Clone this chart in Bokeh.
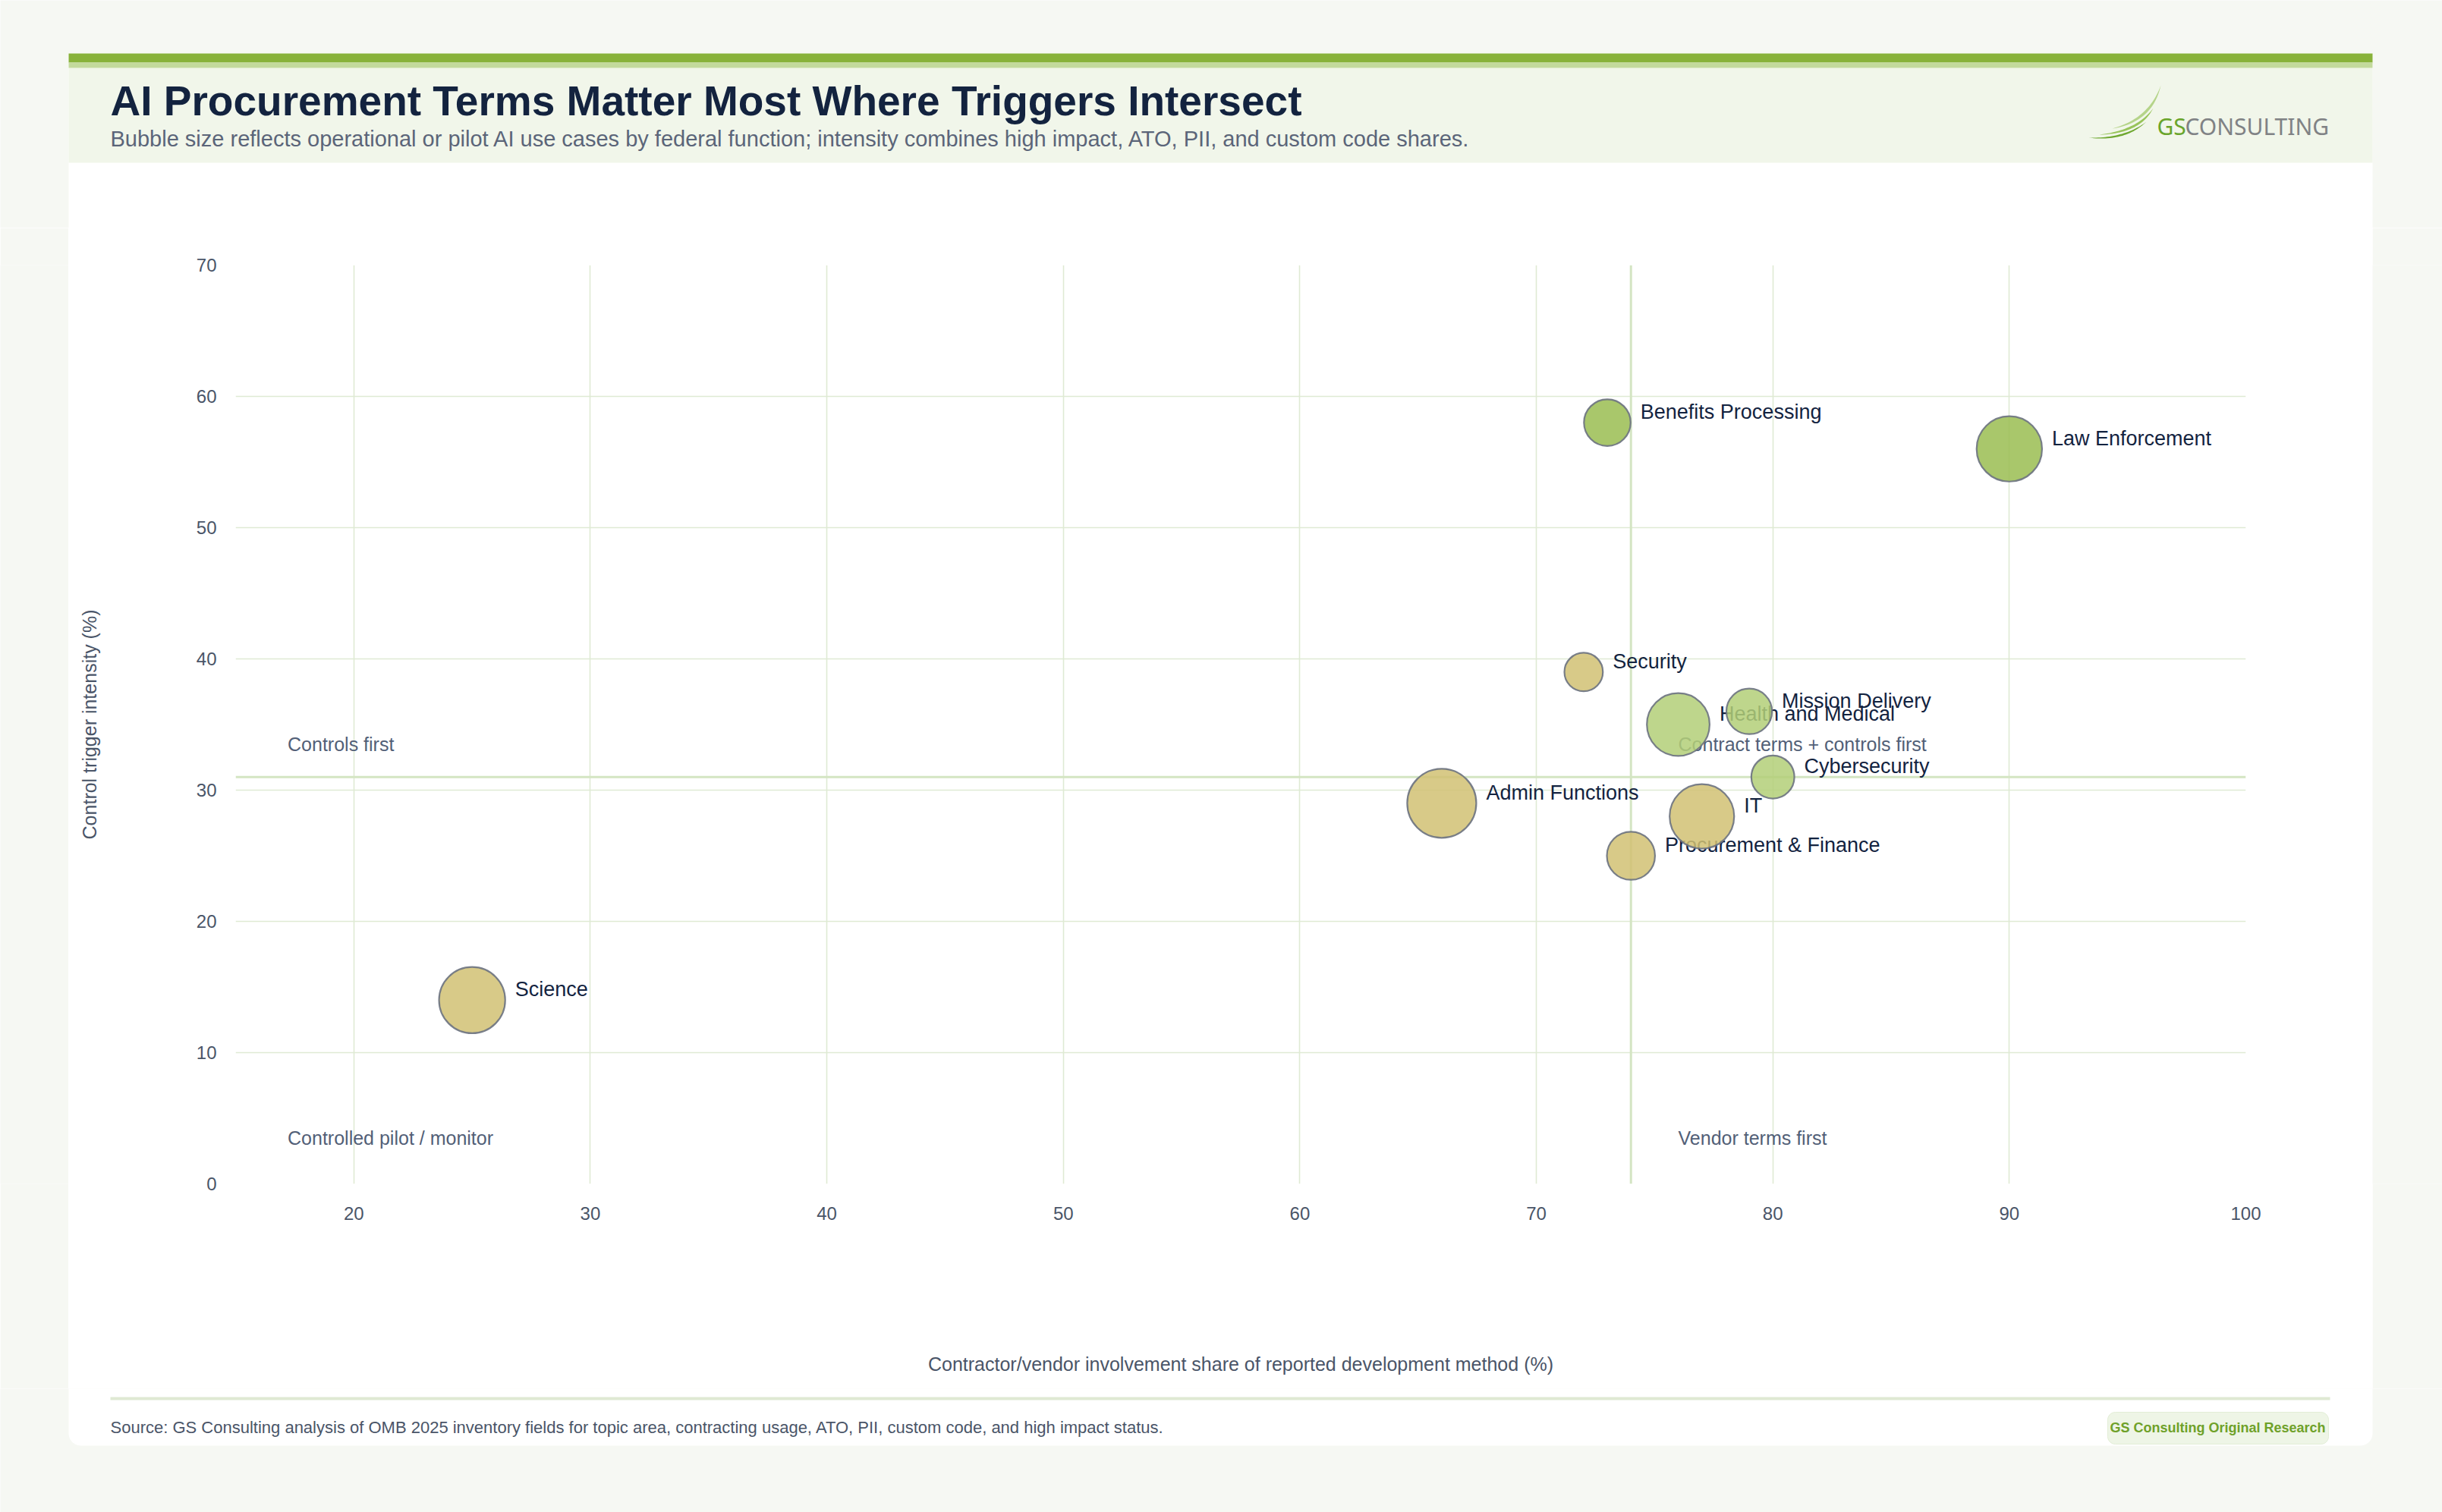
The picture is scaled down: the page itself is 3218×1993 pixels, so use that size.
from bokeh.plotting import figure
from bokeh.layouts import column, row
from bokeh.models import ColumnDataSource, Range1d, FixedTicker, Span
from bokeh.core.properties import value
from bokeh.embed import file_html
from bokeh.resources import INLINE
import numpy as np

# ---------------- data ----------------
functions = ["Benefits Processing", "Law Enforcement", "Security", "Mission Delivery",
             "Health and Medical", "Cybersecurity", "Admin Functions", "IT",
             "Procurement & Finance", "Science"]
vendor_share = [73, 90, 72, 79, 76, 80, 66, 77, 74, 25]
trigger_intensity = [58, 56, 39, 36, 35, 31, 29, 28, 25, 14]
use_cases = [188, 370, 128, 180, 340, 160, 412, 360, 200, 378]
intensity_band = ["high", "high", "low", "mid", "mid", "mid", "low", "low", "low", "low"]

x_ticks = [20, 30, 40, 50, 60, 70, 80, 90, 100]
y_ticks = [0, 10, 20, 30, 40, 50, 60, 70]
vendor_threshold = 74
trigger_threshold = 31
quadrant_top = ["Controls first", "Contract terms + controls first"]
quadrant_bottom = ["Controlled pilot / monitor", "Vendor terms first"]

TITLE = "AI Procurement Terms Matter Most Where Triggers Intersect"
SUBTITLE = ("Bubble size reflects operational or pilot AI use cases by federal function; "
            "intensity combines high impact, ATO, PII, and custom code shares.")
SOURCE = ("Source: GS Consulting analysis of OMB 2025 inventory fields for topic area, "
          "contracting usage, ATO, PII, custom code, and high impact status.")
BADGE = "GS Consulting Original Research"
X_LABEL = "Contractor/vendor involvement share of reported development method (%)"
Y_LABEL = "Control trigger intensity (%)"

# ---------------- styling / page geometry ----------------
FONT = "Liberation Sans"
PAGE_BG = "#f6f8f3"
W, H = 3218, 1993
CARD_L, CARD_R, CARD_T, CARD_B = 90, 3126, 70, 1905
HEAD_H = 300            # header strip height
FOOT_Y = 1830           # footer strip start
FRAME_L, FRAME_R, FRAME_T, FRAME_B = 310, 2959, 349, 1560
band_colors = {"high": "#9abd51", "mid": "#b3cf78", "low": "#d1c173"}
MAX_D = 91.0


def rounded(l, r, t, b, rt=0.0, rb=0.0, n=10):
    xs, ys = [], []
    for cx, cy, rad, a0, a1 in [(l + rt, t + rt, rt, np.pi, 1.5 * np.pi),
                                (r - rt, t + rt, rt, 1.5 * np.pi, 2 * np.pi),
                                (r - rb, b - rb, rb, 0, 0.5 * np.pi),
                                (l + rb, b - rb, rb, 0.5 * np.pi, np.pi)]:
        a = np.linspace(a0, a1, n)
        xs += list(cx + rad * np.cos(a))
        ys += list(cy + rad * np.sin(a))
    return xs, ys


def deco_fig(x0, x1, y0, y1, pad_top=0, pad_bottom=0, card=True):
    f = figure(width=x1 - x0, height=y1 - y0,
               x_range=Range1d(x0, x1), y_range=Range1d(y1 - pad_bottom, y0 + pad_top),
               output_backend="svg", toolbar_location=None, title=None,
               x_axis_location=None, y_axis_location=None, min_border=0,
               min_border_top=pad_top, min_border_bottom=pad_bottom)
    f.grid.visible = False
    f.outline_line_color = None
    f.border_fill_color = PAGE_BG
    f.background_fill_color = PAGE_BG
    if card:
        xs, ys = rounded(CARD_L, CARD_R, CARD_T, CARD_B, 0, 16)
        f.patch(xs, ys, fill_color="white", line_color=None)
        f.quad(left=[CARD_L], right=[CARD_R], top=[89], bottom=[214],
               fill_color="#f1f6ea", line_color=None)
        f.quad(left=[CARD_L], right=[CARD_R], top=[70], bottom=[82],
               fill_color="#88b23a", line_color=None)
        f.quad(left=[CARD_L], right=[CARD_R], top=[82], bottom=[89],
               fill_color="#c3da9c", line_color=None)
    return f


def txt(f, x, y, s, size, color, bold=False, align="left", font=FONT):
    # y is the wanted baseline; the text is anchored by its middle
    f.text(x=[x], y=[y - 0.35 * size], text=[s], text_font=value(font),
           text_font_size=f"{size}px", text_color=color,
           text_font_style="bold" if bold else "normal",
           text_align=align, text_baseline="middle")


# ---------------- header ----------------
head = deco_fig(0, W, 0, HEAD_H)
txt(head, 145, 152, TITLE, 55, "#13233f", bold=True)
txt(head, 145, 193, SUBTITLE, 29, "#5b6579")
txt(head, 2842, 176, "GS", 30, "#6aa52c", font="Noto Sans")
txt(head, 2879, 176, "CONSULTING", 30, "#808285", font="Noto Sans")


def crescent(f, a, b, c1, c2, color):
    t = np.linspace(0, 1, 30)

    def bez(p0, p1, p2):
        return ((1 - t) ** 2 * p0[0] + 2 * (1 - t) * t * p1[0] + t ** 2 * p2[0],
                (1 - t) ** 2 * p0[1] + 2 * (1 - t) * t * p1[1] + t ** 2 * p2[1])
    x1, y1 = bez(a, c1, b)
    x2, y2 = bez(b, c2, a)
    f.patch(list(np.r_[x1, x2]), list(np.r_[y1, y2]), fill_color=color, line_color=None)


crescent(head, (2783, 169), (2847, 112), (2836, 161), (2831, 156), "#b5d48a")
crescent(head, (2766, 177), (2837, 142), (2820, 176), (2816, 171), "#98c45a")
crescent(head, (2752, 181), (2828, 160), (2800, 187), (2799, 182), "#6fa830")

# ---------------- side strips (page margin beside the card) ----------------
left_strip = deco_fig(0, CARD_L, HEAD_H, FOOT_Y, FRAME_T - HEAD_H, FOOT_Y - FRAME_B, card=False)
right_strip = deco_fig(CARD_R, W, HEAD_H, FOOT_Y, FRAME_T - HEAD_H, FOOT_Y - FRAME_B, card=False)

# ---------------- footer ----------------
foot = deco_fig(0, W, FOOT_Y, H)
foot.quad(left=[145], right=[3070], top=[1841], bottom=[1845], fill_color="#dfe9d3", line_color=None)
bx, by = rounded(2777, 3068, 1861, 1903, 10, 10)
foot.patch(bx, by, fill_color="#eef5e6", line_color="#e2edd6", line_width=1)
txt(foot, 145, 1889, SOURCE, 22, "#4a5568")
txt(foot, 2922, 1888, BADGE, 18, "#6fa12a", bold=True, align="center")

# ---------------- main chart ----------------
sizes = [MAX_D * np.sqrt(c / max(use_cases)) for c in use_cases]
src = ColumnDataSource(dict(
    x=vendor_share, y=trigger_intensity, name=functions, n=use_cases,
    size=sizes, color=[band_colors[b] for b in intensity_band],
    xoff=[s / 2 + 13 for s in sizes],
))

p = figure(width=CARD_R - CARD_L, height=FOOT_Y - HEAD_H,
           x_range=Range1d(15, 100), y_range=Range1d(0, 70),
           output_backend="svg", toolbar_location=None, title=None,
           min_border_left=FRAME_L - CARD_L, min_border_right=CARD_R - FRAME_R,
           min_border_top=FRAME_T - HEAD_H, min_border_bottom=FOOT_Y - FRAME_B)
p.border_fill_color = "white"
p.background_fill_color = "white"
p.outline_line_color = None

for ax in (p.xaxis[0], p.yaxis[0]):
    ax.axis_line_color = None
    ax.major_tick_line_color = None
    ax.minor_tick_line_color = None
    ax.major_label_text_font = FONT
    ax.major_label_text_font_size = "24px"
    ax.major_label_text_color = "#4a5568"
    ax.axis_label_text_font = FONT
    ax.axis_label_text_font_size = "25px"
    ax.axis_label_text_font_style = "normal"
    ax.axis_label_text_color = "#4a5568"
    ax.major_tick_out = 0
    ax.major_tick_in = 0

p.xaxis.ticker = FixedTicker(ticks=x_ticks)
p.yaxis.ticker = FixedTicker(ticks=y_ticks)
p.xaxis.axis_label = X_LABEL
p.yaxis.axis_label = Y_LABEL
p.xaxis.major_label_standoff = 30
p.yaxis.major_label_standoff = 25
p.xaxis.axis_label_standoff = 173
p.yaxis.axis_label_standoff = 124

p.xgrid.ticker = FixedTicker(ticks=x_ticks)
p.ygrid.ticker = FixedTicker(ticks=y_ticks)
p.grid.grid_line_color = "#dfead4"
p.grid.grid_line_width = 1.6

p.add_layout(Span(location=vendor_threshold, dimension="height", line_color="#d4e5c3",
                  line_width=3, level="underlay"))
p.add_layout(Span(location=trigger_threshold, dimension="width", line_color="#d4e5c3",
                  line_width=3, level="underlay"))

qsrc = ColumnDataSource(dict(
    x=[15 + 2.2, vendor_threshold + 2, 15 + 2.2, vendor_threshold + 2],
    y=[trigger_threshold + 2.5, trigger_threshold + 2.5, 3.5, 3.5],
    t=quadrant_top + quadrant_bottom,
))
p.text(x="x", y="y", text="t", source=qsrc, text_font=value(FONT),
       text_font_size="25px", text_color="#526077", text_baseline="middle",
       text_align="left")

p.text(x="x", y="y", text="name", source=src, x_offset="xoff", y_offset=-14,
       text_font=value(FONT), text_font_size="27px", text_color="#13233f",
       text_baseline="middle", text_align="left")

p.scatter(x="x", y="y", size="size", source=src, fill_color="color", fill_alpha=0.85,
          line_color="#6b7280", line_width=2.2, line_alpha=0.9)

layout = column(head, row(left_strip, p, right_strip, spacing=0), foot, spacing=0)
open("out.html", "w").write(file_html(layout, INLINE))
